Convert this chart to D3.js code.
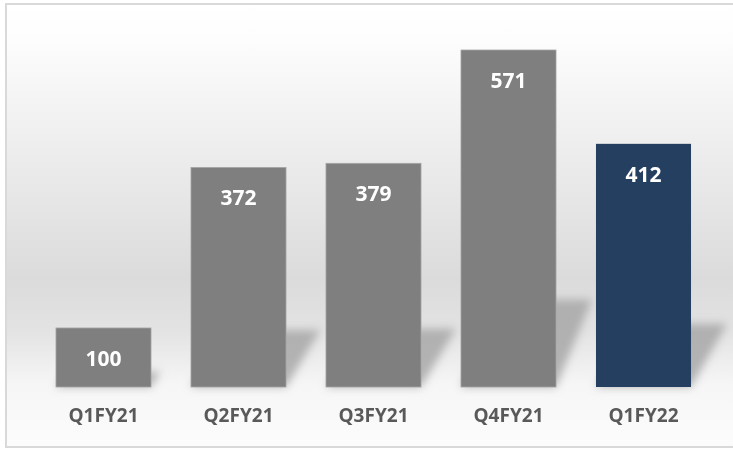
<!DOCTYPE html>
<html>
<head>
<meta charset="utf-8">
<script src="https://cdn.jsdelivr.net/npm/d3@7"></script>
<style>
  body { margin: 0; background: #fff; }
  svg { display: block; }
</style>
</head>
<body>
<svg id="chart" width="733" height="449"></svg>
<script>
// values
var quarters = ["Q1FY21", "Q2FY21", "Q3FY21", "Q4FY21", "Q1FY22"];
var values = [100, 372, 379, 571, 412];
var barColors = ["#7f7f7f", "#7f7f7f", "#7f7f7f", "#7f7f7f", "#243f60"];

var svg = d3.select("#chart");
var W = 733, H = 449;
var baseY = 387;

var defs = svg.append("defs");
var grad = defs.append("linearGradient")
    .attr("id", "bg").attr("x1", 0).attr("y1", 0).attr("x2", 0).attr("y2", 1);
[[0, "#ffffff"], [0.08, "#fdfdfd"], [0.35, "#ececec"], [0.62, "#dbdbdb"],
 [0.74, "#e3e3e3"], [0.86, "#f6f6f6"], [1, "#fcfcfc"]].forEach(function(s) {
  grad.append("stop").attr("offset", s[0]).attr("stop-color", s[1]);
});
defs.append("filter").attr("id", "blur")
    .attr("x", "-50%").attr("y", "-50%").attr("width", "200%").attr("height", "200%")
  .append("feGaussianBlur").attr("stdDeviation", 4.5);

// frame + backdrop
svg.append("rect")
    .attr("x", 6).attr("y", 4).attr("width", W + 10).attr("height", 443)
    .attr("fill", "url(#bg)")
    .attr("stroke", "#d9d9d9").attr("stroke-width", 2);

var x = d3.scaleBand()
    .domain(quarters)
    .range([36, 711])
    .paddingInner(0.296)
    .paddingOuter(0.148);

var y = d3.scaleLinear()
    .domain([0, 571])
    .range([baseY, 50]);

var data = quarters.map(function(q, i) { return {q: q, v: values[i], c: barColors[i]}; });

// soft cast shadows behind the bars
svg.append("g").attr("filter", "url(#blur)")
  .selectAll("path")
  .data(data)
  .enter().append("path")
    .attr("fill", "#a4a4a4")
    .attr("opacity", 0.8)
    .attr("d", function(d) {
      var x0 = x(d.q), x1 = x0 + x.bandwidth();
      var hs = (baseY - y(d.v)) * 0.26;
      var dx = Math.min(hs * 0.6, 36);
      return "M" + x0 + "," + baseY + "L" + x1 + "," + baseY +
             "L" + (x1 + dx) + "," + (baseY - hs) + "L" + (x0 + dx) + "," + (baseY - hs) + "Z";
    });

// bars
svg.append("g")
  .selectAll("rect")
  .data(data)
  .enter().append("rect")
    .attr("x", function(d) { return x(d.q); })
    .attr("y", function(d) { return y(d.v); })
    .attr("width", x.bandwidth())
    .attr("height", function(d) { return baseY - y(d.v); })
    .attr("fill", function(d) { return d.c; })
    .attr("stroke", function(d, i) { return i < 4 ? "#a6a6a6" : "none"; })
    .attr("stroke-width", 0.8);

// value labels
svg.append("g")
  .selectAll("text")
  .data(data)
  .enter().append("text")
    .attr("x", function(d) { return x(d.q) + x.bandwidth() / 2; })
    .attr("y", function(d) { return y(d.v) + 30; })
    .attr("text-anchor", "middle")
    .attr("dominant-baseline", "central")
    .attr("fill", "#ffffff")
    .attr("font-family", "'Open Sans', Lato, sans-serif")
    .attr("font-weight", "bold")
    .attr("font-size", "21px")
    .text(function(d) { return d.v; });

// category axis
var xAxis = svg.append("g")
    .attr("transform", "translate(0," + baseY + ")")
    .call(d3.axisBottom(x).tickSize(0).tickPadding(22));
xAxis.select(".domain").remove();
xAxis.selectAll("text")
    .attr("fill", "#595959")
    .attr("font-family", "'Open Sans', Lato, sans-serif")
    .attr("font-weight", "bold")
    .attr("font-size", "19px");
</script>
</body>
</html>
